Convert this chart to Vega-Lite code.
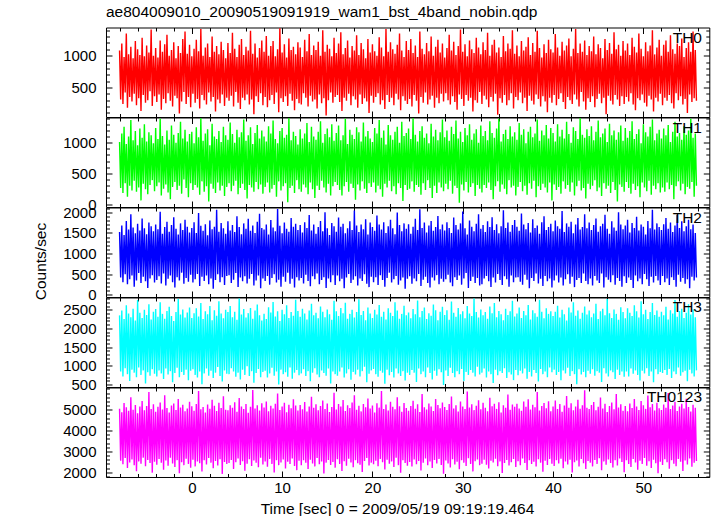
{
"$schema":"https://vega.github.io/schema/vega-lite/v6.json",
"padding":{"left":33,"top":4.5,"right":7,"bottom":2},
"spacing":0,
"bounds":"flush",
"config":{"view":{"stroke":"#000","strokeWidth":1},"axis":{"minExtent":0,"domain":false,"grid":false,"tickColor":"#000","tickWidth":1,"labelFont":"Liberation Sans","labelFontSize":15,"labelColor":"#000","labelOverlap":false,"labelFlush":false,"titleFont":"Liberation Sans","titleFontSize":15.5,"titleFontWeight":"normal","titleColor":"#000"},"axisX":{"minExtent":0},"axisY":{"minExtent":0}},
"datasets":{"wam":[
{"t":-8,"a":1080,"b":1010,"c":1520,"d":2350,"e":5050},{"t":-7.875,"a":310,"b":260,"c":420,"d":850,"e":2550},
{"t":-7.75,"a":1190,"b":1150,"c":1680,"d":2480,"e":4880},{"t":-7.625,"a":240,"b":180,"c":310,"d":720,"e":2380},
{"t":-7.5,"a":980,"b":1260,"c":1450,"d":2250,"e":5320},{"t":-7.375,"a":420,"b":340,"c":500,"d":940,"e":2680},
{"t":-7.25,"a":1350,"b":980,"c":1790,"d":2620,"e":5120},{"t":-7.125,"a":180,"b":120,"c":260,"d":780,"e":2200},
{"t":-7,"a":1020,"b":1100,"c":1580,"d":2400,"e":4950},{"t":-6.875,"a":350,"b":300,"c":380,"d":600,"e":2470},
{"t":-6.75,"a":1140,"b":1370,"c":1950,"d":2300,"e":5600},{"t":-6.625,"a":280,"b":220,"c":470,"d":900,"e":2610},
{"t":-6.5,"a":960,"b":1040,"c":1630,"d":2530,"e":5000},{"t":-6.375,"a":400,"b":380,"c":200,"d":820,"e":2330},
{"t":-6.25,"a":1230,"b":1190,"c":1490,"d":2210,"e":5230},{"t":-6.125,"a":220,"b":200,"c":350,"d":700,"e":2050},
{"t":-6,"a":1100,"b":960,"c":1720,"d":2760,"e":4830},{"t":-5.875,"a":330,"b":270,"c":530,"d":960,"e":2520},
{"t":-5.75,"a":1010,"b":1230,"c":1560,"d":2420,"e":5150},{"t":-5.625,"a":130,"b":60,"c":290,"d":760,"e":2410},
{"t":-5.5,"a":1280,"b":1080,"c":1850,"d":2280,"e":5420},{"t":-5.375,"a":380,"b":330,"c":440,"d":880,"e":2700},
{"t":-5.25,"a":990,"b":1300,"c":1610,"d":2500,"e":4970},{"t":-5.125,"a":260,"b":240,"c":330,"d":530,"e":2290},
{"t":-5,"a":1160,"b":1020,"c":1470,"d":2360,"e":5180},{"t":-4.875,"a":300,"b":160,"c":170,"d":830,"e":2590},
{"t":-4.75,"a":1050,"b":1170,"c":1750,"d":2650,"e":5850},{"t":-4.625,"a":440,"b":310,"c":400,"d":740,"e":2440},
{"t":-4.5,"a":1410,"b":1120,"c":1660,"d":2240,"e":5040},{"t":-4.375,"a":210,"b":390,"c":480,"d":910,"e":1980},
{"t":-4.25,"a":1000,"b":990,"c":1540,"d":2450,"e":5260},{"t":-4.125,"a":360,"b":210,"c":300,"d":790,"e":2500},
{"t":-4,"a":1120,"b":1240,"c":1700,"d":2520,"e":4900},{"t":-3.875,"a":270,"b":290,"c":360,"d":720,"e":2360},
{"t":-3.75,"a":970,"b":1060,"c":1590,"d":2310,"e":5140},{"t":-3.625,"a":390,"b":350,"c":450,"d":880,"e":2630},
{"t":-3.5,"a":1240,"b":1390,"c":2010,"d":2700,"e":5350},{"t":-3.375,"a":150,"b":140,"c":280,"d":800,"e":2450},
{"t":-3.25,"a":1060,"b":1110,"c":1480,"d":2390,"e":5010},{"t":-3.125,"a":320,"b":250,"c":520,"d":650,"e":2120},
{"t":-3,"a":1180,"b":970,"c":1640,"d":2260,"e":5700},{"t":-2.875,"a":250,"b":320,"c":230,"d":930,"e":2560},
{"t":-2.75,"a":1330,"b":1200,"c":1770,"d":2470,"e":5080},{"t":-2.625,"a":410,"b":190,"c":390,"d":770,"e":2310},
{"t":-2.5,"a":1000,"b":1050,"c":1530,"d":2580,"e":4860},{"t":-2.375,"a":290,"b":80,"c":470,"d":860,"e":2690},
{"t":-2.25,"a":1090,"b":1280,"c":1690,"d":2330,"e":5200},{"t":-2.125,"a":200,"b":280,"c":310,"d":560,"e":2420},
{"t":-2,"a":1210,"b":1130,"c":1880,"d":2200,"e":5300},{"t":-1.875,"a":370,"b":360,"c":180,"d":810,"e":2250},
{"t":-1.75,"a":960,"b":1000,"c":1600,"d":2440,"e":4990},{"t":-1.625,"a":330,"b":230,"c":430,"d":950,"e":2580},
{"t":-1.5,"a":1150,"b":1160,"c":1460,"d":2790,"e":5520},{"t":-1.375,"a":90,"b":300,"c":350,"d":700,"e":1950},
{"t":-1.25,"a":1040,"b":1340,"c":1730,"d":2370,"e":5110},{"t":-1.125,"a":280,"b":170,"c":540,"d":840,"e":2480},
{"t":-1,"a":1260,"b":1070,"c":1570,"d":2510,"e":5240},{"t":-0.875,"a":430,"b":400,"c":270,"d":760,"e":2340},
{"t":-0.75,"a":1380,"b":1210,"c":1820,"d":2290,"e":4920},{"t":-0.625,"a":240,"b":260,"c":410,"d":900,"e":2650},
{"t":-0.5,"a":1030,"b":1020,"c":1650,"d":2430,"e":5060},{"t":-0.375,"a":350,"b":110,"c":320,"d":620,"e":2400},
{"t":-0.25,"a":1170,"b":1140,"c":1510,"d":2560,"e":5380},{"t":-0.125,"a":190,"b":340,"c":490,"d":870,"e":2210},
{"t":0,"a":990,"b":1180,"c":1620,"d":2280,"e":5170},{"t":0.125,"a":400,"b":230,"c":300,"d":910,"e":2600},
{"t":0.25,"a":1110,"b":990,"c":1760,"d":2410,"e":4950},{"t":0.375,"a":260,"b":310,"c":380,"d":760,"e":2280},
{"t":0.5,"a":1250,"b":1250,"c":1500,"d":2540,"e":5280},{"t":0.625,"a":320,"b":270,"c":510,"d":690,"e":2510},
{"t":0.75,"a":1070,"b":1090,"c":1980,"d":2320,"e":5900},{"t":0.875,"a":170,"b":150,"c":220,"d":850,"e":2430},
{"t":1,"a":1420,"b":1400,"c":1670,"d":2680,"e":5020},{"t":1.125,"a":380,"b":370,"c":440,"d":510,"e":2030},
{"t":1.25,"a":1000,"b":1030,"c":1550,"d":2250,"e":5130},{"t":1.375,"a":300,"b":200,"c":340,"d":800,"e":2570},
{"t":1.5,"a":1130,"b":1150,"c":1710,"d":2460,"e":4870},{"t":1.625,"a":230,"b":290,"c":470,"d":930,"e":2370},
{"t":1.75,"a":1190,"b":1220,"c":1440,"d":2380,"e":5250},{"t":1.875,"a":420,"b":40,"c":260,"d":740,"e":2680},
{"t":2,"a":980,"b":960,"c":1800,"d":2600,"e":5050},{"t":2.125,"a":280,"b":330,"c":400,"d":870,"e":2460},
{"t":2.25,"a":1300,"b":1310,"c":1590,"d":2220,"e":5480},{"t":2.375,"a":350,"b":250,"c":150,"d":680,"e":2190},
{"t":2.5,"a":1060,"b":1100,"c":1650,"d":2490,"e":5190},{"t":2.625,"a":120,"b":180,"c":360,"d":820,"e":2540},
{"t":2.75,"a":1150,"b":1060,"c":2060,"d":2340,"e":4940},{"t":2.875,"a":310,"b":350,"c":500,"d":970,"e":2320},
{"t":3,"a":1020,"b":1190,"c":1530,"d":2730,"e":5330},{"t":3.125,"a":250,"b":220,"c":310,"d":730,"e":2620},
{"t":3.25,"a":1220,"b":1010,"c":1740,"d":2400,"e":5080},{"t":3.375,"a":390,"b":300,"c":430,"d":580,"e":1920},
{"t":3.5,"a":1090,"b":1260,"c":1610,"d":2270,"e":5650},{"t":3.625,"a":210,"b":130,"c":240,"d":880,"e":2490},
{"t":3.75,"a":960,"b":1120,"c":1480,"d":2500,"e":5000},{"t":3.875,"a":340,"b":280,"c":460,"d":790,"e":2390},
{"t":4,"a":1200,"b":1050,"c":1780,"d":2440,"e":4980},{"t":4.125,"a":290,"b":340,"c":480,"d":780,"e":2440},
{"t":4.25,"a":1040,"b":1330,"c":1560,"d":2600,"e":5220},{"t":4.375,"a":370,"b":210,"c":290,"d":940,"e":2590},
{"t":4.5,"a":1360,"b":1140,"c":1690,"d":2300,"e":5100},{"t":4.625,"a":200,"b":300,"c":370,"d":850,"e":2160},
{"t":4.75,"a":1110,"b":1000,"c":1520,"d":2450,"e":5360},{"t":4.875,"a":430,"b":380,"c":530,"d":710,"e":2480},
{"t":5,"a":980,"b":1210,"c":1900,"d":2230,"e":4900},{"t":5.125,"a":260,"b":160,"c":190,"d":820,"e":2660},
{"t":5.25,"a":1170,"b":1090,"c":1640,"d":2800,"e":5560},{"t":5.375,"a":160,"b":260,"c":420,"d":640,"e":2350},
{"t":5.5,"a":1260,"b":1170,"c":1470,"d":2370,"e":5160},{"t":5.625,"a":340,"b":330,"c":330,"d":900,"e":2530},
{"t":5.75,"a":1010,"b":1380,"c":1730,"d":2520,"e":5030},{"t":5.875,"a":300,"b":230,"c":450,"d":760,"e":2070},
{"t":6,"a":1140,"b":1030,"c":1600,"d":2290,"e":5270},{"t":6.125,"a":390,"b":90,"c":280,"d":990,"e":2410},
{"t":6.25,"a":1080,"b":1120,"c":1840,"d":2410,"e":4850},{"t":6.375,"a":230,"b":310,"c":390,"d":730,"e":2620},
{"t":6.5,"a":1390,"b":1250,"c":1550,"d":2550,"e":5140},{"t":6.625,"a":310,"b":270,"c":510,"d":860,"e":2300},
{"t":6.75,"a":1030,"b":980,"c":1680,"d":2260,"e":5950},{"t":6.875,"a":80,"b":200,"c":230,"d":550,"e":2560},
{"t":7,"a":1190,"b":1160,"c":1500,"d":2480,"e":5060},{"t":7.125,"a":360,"b":360,"c":350,"d":810,"e":2450},
{"t":7.25,"a":970,"b":1290,"c":1770,"d":2640,"e":5210},{"t":7.375,"a":270,"b":240,"c":470,"d":920,"e":2240},
{"t":7.5,"a":1120,"b":1070,"c":1960,"d":2350,"e":4960},{"t":7.625,"a":410,"b":320,"c":160,"d":700,"e":2690},
{"t":7.75,"a":1240,"b":1200,"c":1620,"d":2210,"e":5310},{"t":7.875,"a":220,"b":170,"c":400,"d":840,"e":2370},
{"t":8,"a":1060,"b":1100,"c":1580,"d":2390,"e":5110},{"t":8.125,"a":350,"b":280,"c":340,"d":870,"e":2510},
{"t":8.25,"a":1310,"b":1020,"c":1700,"d":2250,"e":5400},{"t":8.375,"a":190,"b":350,"c":460,"d":690,"e":2260},
{"t":8.5,"a":1000,"b":1270,"c":1460,"d":2570,"e":4930},{"t":8.625,"a":300,"b":190,"c":250,"d":800,"e":2640},
{"t":8.75,"a":1150,"b":1150,"c":1810,"d":2430,"e":5190},{"t":8.875,"a":380,"b":250,"c":410,"d":950,"e":2400},
{"t":9,"a":1230,"b":1360,"c":1630,"d":2710,"e":5060},{"t":9.125,"a":240,"b":310,"c":500,"d":740,"e":1990},
{"t":9.25,"a":990,"b":1060,"c":1540,"d":2320,"e":5290},{"t":9.375,"a":420,"b":120,"c":300,"d":850,"e":2580},
{"t":9.5,"a":1100,"b":990,"c":2080,"d":2460,"e":5780},{"t":9.625,"a":110,"b":370,"c":370,"d":500,"e":2340},
{"t":9.75,"a":1430,"b":1190,"c":1670,"d":2200,"e":4990},{"t":9.875,"a":330,"b":220,"c":200,"d":900,"e":2470},
{"t":10,"a":1050,"b":1240,"c":1490,"d":2500,"e":5150},{"t":10.125,"a":270,"b":290,"c":440,"d":780,"e":2610},
{"t":10.25,"a":1180,"b":1080,"c":1750,"d":2380,"e":5340},{"t":10.375,"a":360,"b":340,"c":320,"d":830,"e":2180},
{"t":10.5,"a":970,"b":1130,"c":1600,"d":2620,"e":4880},{"t":10.625,"a":210,"b":30,"c":540,"d":710,"e":2500},
{"t":10.75,"a":1270,"b":1400,"c":1530,"d":2280,"e":5240},{"t":10.875,"a":400,"b":260,"c":270,"d":960,"e":2390},
{"t":11,"a":1090,"b":1040,"c":1860,"d":2440,"e":5070},{"t":11.125,"a":290,"b":300,"c":390,"d":660,"e":2660},
{"t":11.25,"a":1140,"b":1180,"c":1650,"d":2340,"e":5500},{"t":11.375,"a":140,"b":180,"c":180,"d":820,"e":2300},
{"t":11.5,"a":1020,"b":1110,"c":1720,"d":2770,"e":5200},{"t":11.625,"a":320,"b":390,"c":430,"d":890,"e":2100},
{"t":11.75,"a":1210,"b":970,"c":1570,"d":2470,"e":4960},{"t":11.875,"a":250,"b":240,"c":350,"d":750,"e":2550},
{"t":12,"a":1130,"b":1220,"c":1690,"d":2310,"e":5230},{"t":12.125,"a":230,"b":200,"c":410,"d":800,"e":2330},
{"t":12.25,"a":980,"b":1070,"c":1510,"d":2530,"e":5020},{"t":12.375,"a":410,"b":320,"c":280,"d":910,"e":2570},
{"t":12.5,"a":1250,"b":1150,"c":1760,"d":2400,"e":5370},{"t":12.625,"a":340,"b":270,"c":490,"d":730,"e":2450},
{"t":12.75,"a":1070,"b":1320,"c":1620,"d":2240,"e":4910},{"t":12.875,"a":200,"b":160,"c":340,"d":860,"e":2150},
{"t":13,"a":1340,"b":1010,"c":1930,"d":2480,"e":5160},{"t":13.125,"a":370,"b":350,"c":210,"d":590,"e":2600},
{"t":13.25,"a":1010,"b":1260,"c":1560,"d":2660,"e":5620},{"t":13.375,"a":280,"b":240,"c":450,"d":820,"e":2420},
{"t":13.5,"a":1160,"b":1100,"c":1700,"d":2350,"e":5090},{"t":13.625,"a":310,"b":100,"c":380,"d":940,"e":2280},
{"t":13.75,"a":1090,"b":1050,"c":1480,"d":2420,"e":5260},{"t":13.875,"a":170,"b":300,"c":520,"d":770,"e":2680},
{"t":14,"a":1220,"b":1180,"c":1640,"d":2270,"e":4970},{"t":14.125,"a":390,"b":230,"c":260,"d":700,"e":2380},
{"t":14.25,"a":1000,"b":1350,"c":1790,"d":2590,"e":5180},{"t":14.375,"a":250,"b":380,"c":360,"d":880,"e":2520},
{"t":14.5,"a":1400,"b":1000,"c":1540,"d":2450,"e":5440},{"t":14.625,"a":330,"b":270,"c":430,"d":810,"e":1940},
{"t":14.75,"a":1060,"b":1140,"c":2000,"d":2300,"e":5040},{"t":14.875,"a":60,"b":190,"c":170,"d":740,"e":2460},
{"t":15,"a":1170,"b":1230,"c":1610,"d":2510,"e":5300},{"t":15.125,"a":300,"b":330,"c":400,"d":930,"e":2590},
{"t":15.25,"a":1110,"b":1090,"c":1450,"d":2380,"e":4890},{"t":15.375,"a":420,"b":140,"c":310,"d":530,"e":2350},
{"t":15.5,"a":990,"b":1300,"c":1740,"d":2230,"e":5130},{"t":15.625,"a":260,"b":290,"c":480,"d":850,"e":2490},
{"t":15.75,"a":1280,"b":1030,"c":1660,"d":2740,"e":5820},{"t":15.875,"a":350,"b":360,"c":240,"d":780,"e":2220},
{"t":16,"a":1040,"b":1160,"c":1530,"d":2460,"e":5010},{"t":16.125,"a":380,"b":310,"c":470,"d":740,"e":2620},
{"t":16.25,"a":1190,"b":1280,"c":1870,"d":2330,"e":5270},{"t":16.375,"a":270,"b":230,"c":330,"d":850,"e":2400},
{"t":16.5,"a":1370,"b":1040,"c":1650,"d":2550,"e":5150},{"t":16.625,"a":130,"b":140,"c":390,"d":960,"e":2060},
{"t":16.75,"a":1020,"b":1120,"c":1720,"d":2410,"e":5470},{"t":16.875,"a":340,"b":290,"c":160,"d":690,"e":2530},
{"t":17,"a":1120,"b":1390,"c":1490,"d":2690,"e":4940},{"t":17.125,"a":290,"b":360,"c":420,"d":800,"e":2310},
{"t":17.25,"a":1240,"b":980,"c":1610,"d":2260,"e":5220},{"t":17.375,"a":400,"b":200,"c":510,"d":910,"e":2650},
{"t":17.5,"a":970,"b":1210,"c":1780,"d":2390,"e":5080},{"t":17.625,"a":220,"b":330,"c":290,"d":630,"e":2470},
{"t":17.75,"a":1150,"b":1130,"c":1570,"d":2500,"e":5350},{"t":17.875,"a":360,"b":260,"c":370,"d":840,"e":2240},
{"t":18,"a":1080,"b":1060,"c":2040,"d":2290,"e":5690},{"t":18.125,"a":310,"b":70,"c":450,"d":770,"e":2580},
{"t":18.25,"a":1320,"b":1250,"c":1680,"d":2440,"e":5000},{"t":18.375,"a":180,"b":320,"c":230,"d":900,"e":2430},
{"t":18.5,"a":1010,"b":1170,"c":1520,"d":2780,"e":5190},{"t":18.625,"a":390,"b":220,"c":400,"d":720,"e":2360},
{"t":18.75,"a":1200,"b":1020,"c":1700,"d":2360,"e":4920},{"t":18.875,"a":240,"b":370,"c":340,"d":860,"e":2010},
{"t":19,"a":1100,"b":1330,"c":1590,"d":2470,"e":5280},{"t":19.125,"a":330,"b":250,"c":500,"d":980,"e":2540},
{"t":19.25,"a":960,"b":1100,"c":1830,"d":2220,"e":5120},{"t":19.375,"a":280,"b":180,"c":270,"d":560,"e":2680},
{"t":19.5,"a":1260,"b":1190,"c":1460,"d":2560,"e":5540},{"t":19.625,"a":100,"b":340,"c":190,"d":790,"e":2320},
{"t":19.75,"a":1050,"b":1070,"c":1750,"d":2400,"e":5060},{"t":19.875,"a":370,"b":280,"c":440,"d":880,"e":2460},
{"t":20,"a":1180,"b":1010,"c":1640,"d":2280,"e":5200},{"t":20.125,"a":260,"b":350,"c":310,"d":920,"e":2380},
{"t":20.25,"a":1070,"b":1240,"c":1550,"d":2500,"e":4870},{"t":20.375,"a":350,"b":190,"c":430,"d":780,"e":2550},
{"t":20.5,"a":1000,"b":1150,"c":1920,"d":2370,"e":5310},{"t":20.625,"a":410,"b":300,"c":240,"d":710,"e":2290},
{"t":20.75,"a":1290,"b":1370,"c":1700,"d":2630,"e":5100},{"t":20.875,"a":230,"b":240,"c":480,"d":870,"e":2640},
{"t":21,"a":1130,"b":1080,"c":1580,"d":2310,"e":5900},{"t":21.125,"a":300,"b":120,"c":360,"d":820,"e":2480},
{"t":21.25,"a":990,"b":1200,"c":1760,"d":2450,"e":5040},{"t":21.375,"a":160,"b":330,"c":200,"d":520,"e":2130},
{"t":21.5,"a":1420,"b":970,"c":1500,"d":2240,"e":5250},{"t":21.625,"a":380,"b":270,"c":410,"d":900,"e":2600},
{"t":21.75,"a":1060,"b":1290,"c":1660,"d":2540,"e":4960},{"t":21.875,"a":270,"b":380,"c":540,"d":750,"e":2410},
{"t":22,"a":1210,"b":1120,"c":1820,"d":2420,"e":5380},{"t":22.125,"a":340,"b":210,"c":300,"d":840,"e":2520},
{"t":22.25,"a":1100,"b":1050,"c":1610,"d":2330,"e":5140},{"t":22.375,"a":220,"b":290,"c":380,"d":690,"e":2250},
{"t":22.5,"a":1030,"b":1180,"c":1470,"d":2700,"e":5020},{"t":22.625,"a":400,"b":160,"c":460,"d":930,"e":2690},
{"t":22.75,"a":1170,"b":1260,"c":1990,"d":2480,"e":5600},{"t":22.875,"a":310,"b":340,"c":250,"d":800,"e":2340},
{"t":23,"a":1350,"b":1000,"c":1690,"d":2260,"e":5170},{"t":23.125,"a":140,"b":260,"c":350,"d":730,"e":1970},
{"t":23.25,"a":1080,"b":1340,"c":1540,"d":2390,"e":4900},{"t":23.375,"a":360,"b":50,"c":420,"d":860,"e":2570},
{"t":23.5,"a":980,"b":1110,"c":1730,"d":2610,"e":5320},{"t":23.625,"a":290,"b":310,"c":150,"d":610,"e":2440},
{"t":23.75,"a":1230,"b":1160,"c":1600,"d":2350,"e":5080},{"t":23.875,"a":240,"b":230,"c":390,"d":820,"e":2310},
{"t":24,"a":1090,"b":1230,"c":1710,"d":2430,"e":4950},{"t":24.125,"a":320,"b":250,"c":450,"d":760,"e":2490},
{"t":24.25,"a":1260,"b":1060,"c":1480,"d":2270,"e":5180},{"t":24.375,"a":200,"b":370,"c":270,"d":890,"e":2270},
{"t":24.5,"a":1040,"b":1400,"c":1650,"d":2520,"e":5430},{"t":24.625,"a":380,"b":200,"c":400,"d":820,"e":2610},
{"t":24.75,"a":1160,"b":1130,"c":1840,"d":2380,"e":5050},{"t":24.875,"a":290,"b":310,"c":330,"d":570,"e":2380},
{"t":25,"a":980,"b":1020,"c":1570,"d":2750,"e":5260},{"t":25.125,"a":90,"b":280,"c":510,"d":930,"e":2540},
{"t":25.25,"a":1380,"b":1190,"c":2070,"d":2300,"e":4890},{"t":25.375,"a":350,"b":150,"c":220,"d":780,"e":2080},
{"t":25.5,"a":1110,"b":1270,"c":1620,"d":2470,"e":5750},{"t":25.625,"a":260,"b":340,"c":370,"d":850,"e":2450},
{"t":25.75,"a":1020,"b":1080,"c":1750,"d":2560,"e":5120},{"t":25.875,"a":420,"b":230,"c":440,"d":700,"e":2660},
{"t":26,"a":1200,"b":1150,"c":1510,"d":2250,"e":5010},{"t":26.125,"a":230,"b":390,"c":290,"d":960,"e":2330},
{"t":26.25,"a":1070,"b":990,"c":1680,"d":2410,"e":5300},{"t":26.375,"a":310,"b":260,"c":180,"d":810,"e":2510},
{"t":26.5,"a":1300,"b":1310,"c":1790,"d":2340,"e":5160},{"t":26.625,"a":370,"b":100,"c":420,"d":640,"e":2200},
{"t":26.75,"a":1000,"b":1100,"c":1550,"d":2640,"e":4940},{"t":26.875,"a":180,"b":300,"c":350,"d":870,"e":2590},
{"t":27,"a":1140,"b":1210,"c":1640,"d":2490,"e":5520},{"t":27.125,"a":340,"b":180,"c":480,"d":740,"e":2420},
{"t":27.25,"a":1250,"b":1040,"c":1910,"d":2220,"e":5230},{"t":27.375,"a":250,"b":350,"c":260,"d":910,"e":2640},
{"t":27.5,"a":1050,"b":1170,"c":1590,"d":2450,"e":5070},{"t":27.625,"a":400,"b":270,"c":390,"d":830,"e":2350},
{"t":27.75,"a":1190,"b":1380,"c":1700,"d":2580,"e":5350},{"t":27.875,"a":280,"b":210,"c":320,"d":490,"e":1930},
{"t":28,"a":970,"b":1090,"c":1560,"d":2360,"e":5130},{"t":28.125,"a":410,"b":330,"c":380,"d":880,"e":2560},
{"t":28.25,"a":1120,"b":1200,"c":1760,"d":2490,"e":4990},{"t":28.375,"a":300,"b":240,"c":490,"d":730,"e":2420},
{"t":28.5,"a":1330,"b":1030,"c":1620,"d":2230,"e":5280},{"t":28.625,"a":230,"b":380,"c":300,"d":950,"e":2230},
{"t":28.75,"a":1080,"b":1260,"c":1500,"d":2720,"e":5640},{"t":28.875,"a":360,"b":170,"c":210,"d":810,"e":2620},
{"t":29,"a":1220,"b":1140,"c":1870,"d":2420,"e":5060},{"t":29.125,"a":270,"b":300,"c":430,"d":700,"e":2370},
{"t":29.25,"a":1010,"b":1360,"c":1690,"d":2310,"e":5210},{"t":29.375,"a":150,"b":260,"c":360,"d":860,"e":2500},
{"t":29.5,"a":1150,"b":1070,"c":1580,"d":2550,"e":4910},{"t":29.625,"a":390,"b":20,"c":470,"d":780,"e":2140},
{"t":29.75,"a":1410,"b":1180,"c":1730,"d":2380,"e":5400},{"t":29.875,"a":320,"b":320,"c":250,"d":920,"e":2580},
{"t":30,"a":1060,"b":1010,"c":2020,"d":2460,"e":5150},{"t":30.125,"a":210,"b":220,"c":400,"d":600,"e":2460},
{"t":30.25,"a":1180,"b":1240,"c":1610,"d":2270,"e":5030},{"t":30.375,"a":380,"b":360,"c":530,"d":840,"e":2300},
{"t":30.5,"a":990,"b":1120,"c":1460,"d":2600,"e":5880},{"t":30.625,"a":290,"b":190,"c":170,"d":760,"e":2670},
{"t":30.75,"a":1240,"b":1300,"c":1800,"d":2400,"e":5110},{"t":30.875,"a":340,"b":280,"c":340,"d":890,"e":2400},
{"t":31,"a":1100,"b":1050,"c":1650,"d":2330,"e":5260},{"t":31.125,"a":120,"b":340,"c":440,"d":820,"e":2040},
{"t":31.25,"a":1040,"b":1150,"c":1540,"d":2800,"e":4980},{"t":31.375,"a":300,"b":130,"c":290,"d":720,"e":2530},
{"t":31.5,"a":1280,"b":1220,"c":1720,"d":2440,"e":5190},{"t":31.625,"a":260,"b":310,"c":410,"d":980,"e":2610},
{"t":31.75,"a":1130,"b":1000,"c":1950,"d":2290,"e":5460},{"t":31.875,"a":430,"b":250,"c":230,"d":770,"e":2340},
{"t":32,"a":1020,"b":1280,"c":1600,"d":2510,"e":5020},{"t":32.125,"a":240,"b":190,"c":260,"d":820,"e":2410},
{"t":32.25,"a":1210,"b":1110,"c":1690,"d":2350,"e":5330},{"t":32.375,"a":370,"b":310,"c":400,"d":930,"e":2600},
{"t":32.5,"a":1090,"b":1190,"c":1520,"d":2440,"e":5090},{"t":32.625,"a":310,"b":260,"c":460,"d":690,"e":2360},
{"t":32.75,"a":1360,"b":1040,"c":1780,"d":2260,"e":4930},{"t":32.875,"a":190,"b":350,"c":330,"d":850,"e":2180},
{"t":33,"a":1000,"b":1350,"c":1640,"d":2590,"e":5580},{"t":33.125,"a":350,"b":230,"c":190,"d":780,"e":2550},
{"t":33.25,"a":1170,"b":1160,"c":1880,"d":2410,"e":5170},{"t":33.375,"a":280,"b":80,"c":420,"d":540,"e":2470},
{"t":33.5,"a":1250,"b":1080,"c":1570,"d":2680,"e":5290},{"t":33.625,"a":400,"b":290,"c":300,"d":900,"e":2650},
{"t":33.75,"a":1050,"b":1230,"c":1710,"d":2300,"e":5040},{"t":33.875,"a":70,"b":370,"c":510,"d":750,"e":2290},
{"t":34,"a":1130,"b":1390,"c":1490,"d":2470,"e":5360},{"t":34.125,"a":330,"b":200,"c":360,"d":860,"e":2520},
{"t":34.25,"a":980,"b":1020,"c":1660,"d":2380,"e":4870},{"t":34.375,"a":260,"b":320,"c":240,"d":810,"e":1960},
{"t":34.5,"a":1310,"b":1140,"c":2050,"d":2220,"e":5220},{"t":34.625,"a":380,"b":250,"c":450,"d":940,"e":2440},
{"t":34.75,"a":1070,"b":1210,"c":1620,"d":2530,"e":5100},{"t":34.875,"a":220,"b":160,"c":380,"d":680,"e":2590},
{"t":35,"a":1190,"b":1060,"c":1750,"d":2360,"e":5730},{"t":35.125,"a":300,"b":390,"c":200,"d":830,"e":2320},
{"t":35.25,"a":1110,"b":1270,"c":1530,"d":2460,"e":5000},{"t":35.375,"a":410,"b":270,"c":470,"d":770,"e":2480},
{"t":35.5,"a":1400,"b":1100,"c":1690,"d":2740,"e":5250},{"t":35.625,"a":170,"b":300,"c":310,"d":620,"e":2630},
{"t":35.75,"a":1030,"b":1170,"c":1810,"d":2320,"e":5140},{"t":35.875,"a":350,"b":140,"c":420,"d":890,"e":2250},
{"t":36,"a":1160,"b":1050,"c":1650,"d":2400,"e":5290},{"t":36.125,"a":300,"b":280,"c":430,"d":750,"e":2530},
{"t":36.25,"a":990,"b":1320,"c":1550,"d":2560,"e":5060},{"t":36.375,"a":420,"b":360,"c":320,"d":870,"e":2330},
{"t":36.5,"a":1230,"b":1130,"c":1970,"d":2280,"e":4950},{"t":36.625,"a":250,"b":210,"c":250,"d":800,"e":2660},
{"t":36.75,"a":1080,"b":1220,"c":1700,"d":2470,"e":5390},{"t":36.875,"a":340,"b":300,"c":490,"d":930,"e":2440},
{"t":37,"a":1140,"b":990,"c":1590,"d":2350,"e":5140},{"t":37.125,"a":130,"b":150,"c":370,"d":660,"e":2110},
{"t":37.25,"a":1290,"b":1180,"c":1740,"d":2630,"e":5500},{"t":37.375,"a":370,"b":340,"c":160,"d":840,"e":2570},
{"t":37.5,"a":1010,"b":1260,"c":1510,"d":2240,"e":5010},{"t":37.625,"a":290,"b":250,"c":410,"d":720,"e":2390},
{"t":37.75,"a":1200,"b":1090,"c":1830,"d":2490,"e":5240},{"t":37.875,"a":230,"b":380,"c":340,"d":890,"e":2500},
{"t":38,"a":1060,"b":1150,"c":1620,"d":2410,"e":5120},{"t":38.125,"a":390,"b":110,"c":520,"d":810,"e":2270},
{"t":38.25,"a":1390,"b":1380,"c":1680,"d":2310,"e":5850},{"t":38.375,"a":320,"b":290,"c":280,"d":580,"e":2620},
{"t":38.5,"a":1120,"b":1030,"c":1480,"d":2770,"e":4960},{"t":38.625,"a":200,"b":230,"c":390,"d":920,"e":2460},
{"t":38.75,"a":970,"b":1200,"c":1760,"d":2450,"e":5180},{"t":38.875,"a":360,"b":330,"c":220,"d":780,"e":2020},
{"t":39,"a":1180,"b":1120,"c":1900,"d":2270,"e":5320},{"t":39.125,"a":280,"b":270,"c":460,"d":850,"e":2550},
{"t":39.25,"a":1040,"b":1290,"c":1570,"d":2540,"e":5070},{"t":39.375,"a":110,"b":190,"c":330,"d":700,"e":2350},
{"t":39.5,"a":1250,"b":1070,"c":1640,"d":2390,"e":5410},{"t":39.625,"a":340,"b":350,"c":400,"d":960,"e":2640},
{"t":39.75,"a":1100,"b":1240,"c":1720,"d":2460,"e":4920},{"t":39.875,"a":260,"b":60,"c":180,"d":830,"e":2410},
{"t":40,"a":1050,"b":1160,"c":1540,"d":2330,"e":5160},{"t":40.125,"a":380,"b":320,"c":350,"d":900,"e":2300},
{"t":40.25,"a":1340,"b":1020,"c":1800,"d":2450,"e":5440},{"t":40.375,"a":220,"b":230,"c":470,"d":760,"e":2580},
{"t":40.5,"a":1130,"b":1300,"c":1660,"d":2610,"e":5030},{"t":40.625,"a":320,"b":280,"c":300,"d":840,"e":2420},
{"t":40.75,"a":1000,"b":1100,"c":1600,"d":2290,"e":5270},{"t":40.875,"a":410,"b":170,"c":420,"d":620,"e":2650},
{"t":41,"a":1220,"b":1210,"c":2030,"d":2500,"e":4900},{"t":41.125,"a":270,"b":370,"c":230,"d":880,"e":2190},
{"t":41.25,"a":1080,"b":1070,"c":1520,"d":2380,"e":5200},{"t":41.375,"a":160,"b":250,"c":380,"d":800,"e":2510},
{"t":41.5,"a":1160,"b":1340,"c":1730,"d":2210,"e":5660},{"t":41.625,"a":350,"b":310,"c":500,"d":950,"e":2370},
{"t":41.75,"a":1270,"b":1140,"c":1650,"d":2560,"e":5090},{"t":41.875,"a":300,"b":200,"c":270,"d":730,"e":2600},
{"t":42,"a":990,"b":1000,"c":1770,"d":2430,"e":5310},{"t":42.125,"a":240,"b":350,"c":440,"d":860,"e":1990},
{"t":42.25,"a":1110,"b":1250,"c":1490,"d":2700,"e":4980},{"t":42.375,"a":390,"b":140,"c":190,"d":780,"e":2480},
{"t":42.5,"a":1420,"b":1190,"c":1700,"d":2340,"e":5150},{"t":42.625,"a":310,"b":290,"c":360,"d":510,"e":2560},
{"t":42.75,"a":1040,"b":1060,"c":1860,"d":2480,"e":5480},{"t":42.875,"a":200,"b":380,"c":410,"d":910,"e":2280},
{"t":43,"a":1190,"b":1400,"c":1580,"d":2260,"e":5050},{"t":43.125,"a":430,"b":220,"c":290,"d":770,"e":2630},
{"t":43.25,"a":1060,"b":1130,"c":1640,"d":2420,"e":5220},{"t":43.375,"a":280,"b":260,"c":520,"d":840,"e":2430},
{"t":43.5,"a":1240,"b":1080,"c":1950,"d":2590,"e":5930},{"t":43.625,"a":150,"b":90,"c":340,"d":700,"e":2150},
{"t":43.75,"a":1010,"b":1220,"c":1610,"d":2370,"e":5100},{"t":43.875,"a":330,"b":330,"c":260,"d":870,"e":2540},
{"t":44,"a":1150,"b":1110,"c":1750,"d":2480,"e":5040},{"t":44.125,"a":270,"b":240,"c":400,"d":790,"e":2460},
{"t":44.25,"a":1070,"b":1270,"c":1570,"d":2300,"e":5230},{"t":44.375,"a":360,"b":300,"c":230,"d":910,"e":2280},
{"t":44.5,"a":1300,"b":1040,"c":1690,"d":2400,"e":5370},{"t":44.625,"a":190,"b":390,"c":460,"d":740,"e":2590},
{"t":44.75,"a":1020,"b":1180,"c":1850,"d":2660,"e":4970},{"t":44.875,"a":320,"b":210,"c":350,"d":860,"e":2400},
{"t":45,"a":1180,"b":1360,"c":1530,"d":2250,"e":5140},{"t":45.125,"a":400,"b":270,"c":290,"d":820,"e":2670},
{"t":45.25,"a":1120,"b":1090,"c":1660,"d":2460,"e":5590},{"t":45.375,"a":250,"b":130,"c":520,"d":570,"e":2090},
{"t":45.5,"a":960,"b":1150,"c":1720,"d":2530,"e":5060},{"t":45.625,"a":340,"b":340,"c":180,"d":940,"e":2520},
{"t":45.75,"a":1260,"b":1230,"c":1940,"d":2350,"e":5290},{"t":45.875,"a":80,"b":250,"c":430,"d":800,"e":2360},
{"t":46,"a":1090,"b":1010,"c":1600,"d":2790,"e":4890},{"t":46.125,"a":370,"b":300,"c":370,"d":720,"e":2610},
{"t":46.25,"a":1200,"b":1310,"c":1480,"d":2410,"e":5180},{"t":46.375,"a":290,"b":180,"c":310,"d":880,"e":2440},
{"t":46.5,"a":1030,"b":1120,"c":1780,"d":2280,"e":5350},{"t":46.625,"a":230,"b":360,"c":480,"d":830,"e":2230},
{"t":46.75,"a":1370,"b":1200,"c":1630,"d":2510,"e":5020},{"t":46.875,"a":380,"b":230,"c":250,"d":650,"e":2570},
{"t":47,"a":1100,"b":1050,"c":1550,"d":2390,"e":5760},{"t":47.125,"a":310,"b":40,"c":410,"d":900,"e":2320},
{"t":47.25,"a":1170,"b":1170,"c":2000,"d":2230,"e":5110},{"t":47.375,"a":210,"b":320,"c":340,"d":760,"e":2660},
{"t":47.5,"a":1000,"b":1280,"c":1700,"d":2570,"e":5260},{"t":47.625,"a":360,"b":280,"c":200,"d":850,"e":2490},
{"t":47.75,"a":1230,"b":1030,"c":1590,"d":2440,"e":4950},{"t":47.875,"a":240,"b":200,"c":450,"d":710,"e":2000},
{"t":48,"a":1080,"b":1240,"c":1680,"d":2270,"e":5180},{"t":48.125,"a":350,"b":360,"c":290,"d":850,"e":2570},
{"t":48.25,"a":1190,"b":1080,"c":1820,"d":2540,"e":4920},{"t":48.375,"a":280,"b":260,"c":420,"d":720,"e":2390},
{"t":48.5,"a":1010,"b":1190,"c":1510,"d":2420,"e":5300},{"t":48.625,"a":410,"b":170,"c":360,"d":930,"e":2250},
{"t":48.75,"a":1280,"b":1350,"c":1740,"d":2330,"e":5080},{"t":48.875,"a":230,"b":330,"c":170,"d":790,"e":2630},
{"t":49,"a":1140,"b":1060,"c":1620,"d":2620,"e":5510},{"t":49.125,"a":140,"b":230,"c":470,"d":880,"e":2470},
{"t":49.25,"a":1050,"b":1140,"c":1890,"d":2460,"e":5150},{"t":49.375,"a":330,"b":290,"c":330,"d":760,"e":2120},
{"t":49.5,"a":1350,"b":1220,"c":1560,"d":2290,"e":4990},{"t":49.625,"a":300,"b":110,"c":400,"d":610,"e":2550},
{"t":49.75,"a":1110,"b":990,"c":1700,"d":2730,"e":5420},{"t":49.875,"a":390,"b":350,"c":260,"d":870,"e":2400},
{"t":50,"a":990,"b":1300,"c":1650,"d":2380,"e":5210},{"t":50.125,"a":260,"b":270,"c":510,"d":800,"e":2680},
{"t":50.25,"a":1210,"b":1170,"c":1460,"d":2500,"e":5040},{"t":50.375,"a":200,"b":210,"c":380,"d":940,"e":2310},
{"t":50.5,"a":1070,"b":1100,"c":1790,"d":2250,"e":5680},{"t":50.625,"a":370,"b":380,"c":220,"d":730,"e":2530},
{"t":50.75,"a":1160,"b":1260,"c":1610,"d":2440,"e":5120},{"t":50.875,"a":310,"b":150,"c":440,"d":850,"e":2200},
{"t":51,"a":1400,"b":1380,"c":2060,"d":2680,"e":5270},{"t":51.125,"a":120,"b":300,"c":300,"d":560,"e":2600},
{"t":51.25,"a":1020,"b":1040,"c":1580,"d":2360,"e":4960},{"t":51.375,"a":340,"b":240,"c":460,"d":910,"e":2430},
{"t":51.5,"a":1130,"b":1150,"c":1730,"d":2480,"e":5340},{"t":51.625,"a":280,"b":340,"c":350,"d":780,"e":1950},
{"t":51.75,"a":1250,"b":1210,"c":1640,"d":2310,"e":5070},{"t":51.875,"a":400,"b":190,"c":240,"d":840,"e":2500},
{"t":52,"a":1000,"b":1070,"c":1570,"d":2450,"e":4990},{"t":52.125,"a":220,"b":270,"c":460,"d":810,"e":2350},
{"t":52.25,"a":1170,"b":1230,"c":1710,"d":2350,"e":5250},{"t":52.375,"a":340,"b":200,"c":310,"d":890,"e":2620},
{"t":52.5,"a":1240,"b":1120,"c":1860,"d":2580,"e":5100},{"t":52.625,"a":290,"b":350,"c":400,"d":760,"e":2480},
{"t":52.75,"a":1060,"b":1290,"c":1600,"d":2240,"e":5800},{"t":52.875,"a":380,"b":240,"c":240,"d":920,"e":2170},
{"t":53,"a":1320,"b":1010,"c":1750,"d":2490,"e":5030},{"t":53.125,"a":250,"b":310,"c":430,"d":680,"e":2580},
{"t":53.25,"a":1100,"b":1180,"c":1520,"d":2400,"e":5200},{"t":53.375,"a":170,"b":80,"c":360,"d":850,"e":2410},
{"t":53.5,"a":1030,"b":1340,"c":1680,"d":2760,"e":5380},{"t":53.625,"a":410,"b":290,"c":200,"d":780,"e":2290},
{"t":53.75,"a":1190,"b":1100,"c":1930,"d":2310,"e":4940},{"t":53.875,"a":300,"b":370,"c":490,"d":960,"e":2640},
{"t":54,"a":1150,"b":1160,"c":1620,"d":2470,"e":5160},{"t":54.125,"a":360,"b":220,"c":320,"d":740,"e":2500},
{"t":54.25,"a":1270,"b":1050,"c":1780,"d":2530,"e":5290},{"t":54.375,"a":230,"b":330,"c":410,"d":830,"e":2060},
{"t":54.5,"a":980,"b":1270,"c":1540,"d":2280,"e":5060},{"t":54.625,"a":320,"b":160,"c":270,"d":870,"e":2560},
{"t":54.75,"a":1120,"b":1130,"c":1660,"d":2420,"e":5530},{"t":54.875,"a":100,"b":280,"c":380,"d":590,"e":2370},
{"t":55,"a":1210,"b":1200,"c":1820,"d":2650,"e":5130},{"t":55.125,"a":390,"b":250,"c":160,"d":900,"e":2660},
{"t":55.25,"a":1060,"b":1390,"c":1590,"d":2370,"e":4910},{"t":55.375,"a":270,"b":360,"c":440,"d":800,"e":2260},
{"t":55.5,"a":1380,"b":1080,"c":1700,"d":2510,"e":5240},{"t":55.625,"a":330,"b":120,"c":350,"d":720,"e":2450},
{"t":55.75,"a":1090,"b":1150,"c":1500,"d":2300,"e":5090},{"t":55.875,"a":290,"b":300,"c":420,"d":880,"e":2540}
]},
"vconcat":[
{"width":603.3,"height":89.5,
 "title":{"text":"ae804009010_20090519091919_wam1_bst_4band_nobin.qdp","anchor":"start","frame":"group","font":"Liberation Sans","fontSize":15.5,"fontWeight":"normal","color":"#000","baseline":"alphabetic","offset":-5.5},
 "layer":[
  {"data":{"name":"wam"},"mark":{"type":"line","color":"#ff0000","strokeWidth":1.4,"clip":true},
   "encoding":{"x":{"field":"t","type":"quantitative","scale":{"domain":[-9.5,57.3],"nice":false,"zero":false},"axis":{"orient":"bottom","values":[0,10,20,30,40,50],"tickSize":-6,"labels":false,"title":null}},
    "y":{"field":"a","type":"quantitative","scale":{"domain":[35,1443],"nice":false,"zero":false},"axis":{"orient":"left","values":[500,1000],"format":"d","tickSize":-6,"labelPadding":16,"title":null}}}},
  {"data":{"values":[{"band":"TH0"}]},"mark":{"type":"text","align":"right","baseline":"alphabetic","dx":-7.3,"dy":15,"font":"Liberation Sans","fontSize":15.5,"color":"#000"},
   "encoding":{"text":{"field":"band"},"x":{"datum":57.3,"type":"quantitative","axis":{"orient":"top","values":[0,10,20,30,40,50],"tickSize":-6,"labels":false,"title":null}},
    "y":{"datum":1443,"type":"quantitative","axis":{"orient":"right","values":[500,1000],"tickSize":-6,"labels":false,"title":null}}}},
  {"data":{"values":[{"band":"TH0"}]},"mark":{"type":"point","size":0,"opacity":0},
   "encoding":{"x":{"datum":0,"type":"quantitative","axis":{"orient":"bottom","values":[-8,-6,-4,-2,2,4,6,8,12,14,16,18,22,24,26,28,32,34,36,38,42,44,46,48,52,54,56],"tickSize":-3.5,"labels":false,"title":null}},
    "y":{"datum":500,"type":"quantitative","axis":{"orient":"left","values":[100,200,300,400,600,700,800,900,1100,1200,1300,1400],"tickSize":-3.5,"labels":false,"title":null}}}},
  {"data":{"values":[{"band":"TH0"}]},"mark":{"type":"point","size":0,"opacity":0},
   "encoding":{"x":{"datum":0,"type":"quantitative","axis":{"orient":"top","values":[-8,-6,-4,-2,2,4,6,8,12,14,16,18,22,24,26,28,32,34,36,38,42,44,46,48,52,54,56],"tickSize":-3.5,"labels":false,"title":null}},
    "y":{"datum":500,"type":"quantitative","axis":{"orient":"right","values":[100,200,300,400,600,700,800,900,1100,1200,1300,1400],"tickSize":-3.5,"labels":false,"title":null}}}}
 ],
 "resolve":{"axis":{"x":"independent","y":"independent"}}},
{"width":603.3,"height":89.5,
 "layer":[
  {"data":{"name":"wam"},"mark":{"type":"line","color":"#00ff00","strokeWidth":1.4,"clip":true},
   "encoding":{"x":{"field":"t","type":"quantitative","scale":{"domain":[-9.5,57.3],"nice":false,"zero":false},"axis":{"orient":"bottom","values":[0,10,20,30,40,50],"tickSize":-6,"labels":false,"title":null}},
    "y":{"field":"b","type":"quantitative","scale":{"domain":[-48,1411],"nice":false,"zero":false},"axis":{"orient":"left","values":[0,500,1000],"format":"d","tickSize":-6,"labelPadding":16,"title":null}}}},
  {"data":{"values":[{"band":"TH1"}]},"mark":{"type":"text","align":"right","baseline":"alphabetic","dx":-7.3,"dy":15,"font":"Liberation Sans","fontSize":15.5,"color":"#000"},
   "encoding":{"text":{"field":"band"},"x":{"datum":57.3,"type":"quantitative","axis":{"orient":"top","values":[0,10,20,30,40,50],"tickSize":-6,"labels":false,"title":null}},
    "y":{"datum":1411,"type":"quantitative","axis":{"orient":"right","values":[0,500,1000],"tickSize":-6,"labels":false,"title":null}}}},
  {"data":{"values":[{"band":"TH1"}]},"mark":{"type":"point","size":0,"opacity":0},
   "encoding":{"x":{"datum":0,"type":"quantitative","axis":{"orient":"bottom","values":[-8,-6,-4,-2,2,4,6,8,12,14,16,18,22,24,26,28,32,34,36,38,42,44,46,48,52,54,56],"tickSize":-3.5,"labels":false,"title":null}},
    "y":{"datum":500,"type":"quantitative","axis":{"orient":"left","values":[100,200,300,400,600,700,800,900,1100,1200,1300,1400],"tickSize":-3.5,"labels":false,"title":null}}}},
  {"data":{"values":[{"band":"TH1"}]},"mark":{"type":"point","size":0,"opacity":0},
   "encoding":{"x":{"datum":0,"type":"quantitative","axis":{"orient":"top","values":[-8,-6,-4,-2,2,4,6,8,12,14,16,18,22,24,26,28,32,34,36,38,42,44,46,48,52,54,56],"tickSize":-3.5,"labels":false,"title":null}},
    "y":{"datum":500,"type":"quantitative","axis":{"orient":"right","values":[100,200,300,400,600,700,800,900,1100,1200,1300,1400],"tickSize":-3.5,"labels":false,"title":null}}}}
 ],
 "resolve":{"axis":{"x":"independent","y":"independent"}}},
{"width":603.3,"height":89.5,
 "layer":[
  {"data":{"name":"wam"},"mark":{"type":"line","color":"#0000ff","strokeWidth":1.4,"clip":true},
   "encoding":{"x":{"field":"t","type":"quantitative","scale":{"domain":[-9.5,57.3],"nice":false,"zero":false},"axis":{"orient":"bottom","values":[0,10,20,30,40,50],"tickSize":-6,"labels":false,"title":null}},
    "y":{"field":"c","type":"quantitative","scale":{"domain":[-49,2114],"nice":false,"zero":false},"axis":{"orient":"left","values":[0,500,1000,1500,2000],"format":"d","tickSize":-6,"labelPadding":16,"title":"Counts/sec","titleX":-60,"titleY":53.5,"titleBaseline":"alphabetic","titleAngle":-90}}}},
  {"data":{"values":[{"band":"TH2"}]},"mark":{"type":"text","align":"right","baseline":"alphabetic","dx":-7.3,"dy":15,"font":"Liberation Sans","fontSize":15.5,"color":"#000"},
   "encoding":{"text":{"field":"band"},"x":{"datum":57.3,"type":"quantitative","axis":{"orient":"top","values":[0,10,20,30,40,50],"tickSize":-6,"labels":false,"title":null}},
    "y":{"datum":2114,"type":"quantitative","axis":{"orient":"right","values":[0,500,1000,1500,2000],"tickSize":-6,"labels":false,"title":null}}}},
  {"data":{"values":[{"band":"TH2"}]},"mark":{"type":"point","size":0,"opacity":0},
   "encoding":{"x":{"datum":0,"type":"quantitative","axis":{"orient":"bottom","values":[-8,-6,-4,-2,2,4,6,8,12,14,16,18,22,24,26,28,32,34,36,38,42,44,46,48,52,54,56],"tickSize":-3.5,"labels":false,"title":null}},
    "y":{"datum":500,"type":"quantitative","axis":{"orient":"left","values":[100,200,300,400,600,700,800,900,1100,1200,1300,1400,1600,1700,1800,1900,2100],"tickSize":-3.5,"labels":false,"title":null}}}},
  {"data":{"values":[{"band":"TH2"}]},"mark":{"type":"point","size":0,"opacity":0},
   "encoding":{"x":{"datum":0,"type":"quantitative","axis":{"orient":"top","values":[-8,-6,-4,-2,2,4,6,8,12,14,16,18,22,24,26,28,32,34,36,38,42,44,46,48,52,54,56],"tickSize":-3.5,"labels":false,"title":null}},
    "y":{"datum":500,"type":"quantitative","axis":{"orient":"right","values":[100,200,300,400,600,700,800,900,1100,1200,1300,1400,1600,1700,1800,1900,2100],"tickSize":-3.5,"labels":false,"title":null}}}}
 ],
 "resolve":{"axis":{"x":"independent","y":"independent"}}},
{"width":603.3,"height":89.5,
 "layer":[
  {"data":{"name":"wam"},"mark":{"type":"line","color":"#00ffff","strokeWidth":1.4,"clip":true},
   "encoding":{"x":{"field":"t","type":"quantitative","scale":{"domain":[-9.5,57.3],"nice":false,"zero":false},"axis":{"orient":"bottom","values":[0,10,20,30,40,50],"tickSize":-6,"labels":false,"title":null}},
    "y":{"field":"d","type":"quantitative","scale":{"domain":[436,2828],"nice":false,"zero":false},"axis":{"orient":"left","values":[500,1000,1500,2000,2500],"format":"d","tickSize":-6,"labelPadding":16,"title":null}}}},
  {"data":{"values":[{"band":"TH3"}]},"mark":{"type":"text","align":"right","baseline":"alphabetic","dx":-7.3,"dy":15,"font":"Liberation Sans","fontSize":15.5,"color":"#000"},
   "encoding":{"text":{"field":"band"},"x":{"datum":57.3,"type":"quantitative","axis":{"orient":"top","values":[0,10,20,30,40,50],"tickSize":-6,"labels":false,"title":null}},
    "y":{"datum":2828,"type":"quantitative","axis":{"orient":"right","values":[500,1000,1500,2000,2500],"tickSize":-6,"labels":false,"title":null}}}},
  {"data":{"values":[{"band":"TH3"}]},"mark":{"type":"point","size":0,"opacity":0},
   "encoding":{"x":{"datum":0,"type":"quantitative","axis":{"orient":"bottom","values":[-8,-6,-4,-2,2,4,6,8,12,14,16,18,22,24,26,28,32,34,36,38,42,44,46,48,52,54,56],"tickSize":-3.5,"labels":false,"title":null}},
    "y":{"datum":1000,"type":"quantitative","axis":{"orient":"left","values":[600,700,800,900,1100,1200,1300,1400,1600,1700,1800,1900,2100,2200,2300,2400,2600,2700,2800],"tickSize":-3.5,"labels":false,"title":null}}}},
  {"data":{"values":[{"band":"TH3"}]},"mark":{"type":"point","size":0,"opacity":0},
   "encoding":{"x":{"datum":0,"type":"quantitative","axis":{"orient":"top","values":[-8,-6,-4,-2,2,4,6,8,12,14,16,18,22,24,26,28,32,34,36,38,42,44,46,48,52,54,56],"tickSize":-3.5,"labels":false,"title":null}},
    "y":{"datum":1000,"type":"quantitative","axis":{"orient":"right","values":[600,700,800,900,1100,1200,1300,1400,1600,1700,1800,1900,2100,2200,2300,2400,2600,2700,2800],"tickSize":-3.5,"labels":false,"title":null}}}}
 ],
 "resolve":{"axis":{"x":"independent","y":"independent"}}},
{"width":603.3,"height":89.5,
 "layer":[
  {"data":{"name":"wam"},"mark":{"type":"line","color":"#ff00ff","strokeWidth":1.4,"clip":true},
   "encoding":{"x":{"field":"t","type":"quantitative","scale":{"domain":[-9.5,57.3],"nice":false,"zero":false},"axis":{"orient":"bottom","values":[0,10,20,30,40,50],"format":"d","tickSize":-6,"labelPadding":10,"title":"Time [sec] 0 = 2009/05/19 09:19:19.464","titleX":291,"titleY":36.8,"titleBaseline":"alphabetic","titleAlign":"center"}},
    "y":{"field":"e","type":"quantitative","scale":{"domain":[1770,6067],"nice":false,"zero":false},"axis":{"orient":"left","values":[2000,3000,4000,5000],"format":"d","tickSize":-6,"labelPadding":16,"title":null}}}},
  {"data":{"values":[{"band":"TH0123"}]},"mark":{"type":"text","align":"right","baseline":"alphabetic","dx":-7.3,"dy":15,"font":"Liberation Sans","fontSize":15.5,"color":"#000"},
   "encoding":{"text":{"field":"band"},"x":{"datum":57.3,"type":"quantitative","axis":{"orient":"top","values":[0,10,20,30,40,50],"tickSize":-6,"labels":false,"title":null}},
    "y":{"datum":6067,"type":"quantitative","axis":{"orient":"right","values":[2000,3000,4000,5000],"tickSize":-6,"labels":false,"title":null}}}},
  {"data":{"values":[{"band":"TH0123"}]},"mark":{"type":"point","size":0,"opacity":0},
   "encoding":{"x":{"datum":0,"type":"quantitative","axis":{"orient":"bottom","values":[-8,-6,-4,-2,2,4,6,8,12,14,16,18,22,24,26,28,32,34,36,38,42,44,46,48,52,54,56],"tickSize":-3.5,"labels":false,"title":null}},
    "y":{"datum":3000,"type":"quantitative","axis":{"orient":"left","values":[1800,2200,2400,2600,2800,3200,3400,3600,3800,4200,4400,4600,4800,5200,5400,5600,5800,6000],"tickSize":-3.5,"labels":false,"title":null}}}},
  {"data":{"values":[{"band":"TH0123"}]},"mark":{"type":"point","size":0,"opacity":0},
   "encoding":{"x":{"datum":0,"type":"quantitative","axis":{"orient":"top","values":[-8,-6,-4,-2,2,4,6,8,12,14,16,18,22,24,26,28,32,34,36,38,42,44,46,48,52,54,56],"tickSize":-3.5,"labels":false,"title":null}},
    "y":{"datum":3000,"type":"quantitative","axis":{"orient":"right","values":[1800,2200,2400,2600,2800,3200,3400,3600,3800,4200,4400,4600,4800,5200,5400,5600,5800,6000],"tickSize":-3.5,"labels":false,"title":null}}}}
 ],
 "resolve":{"axis":{"x":"independent","y":"independent"}}}
]
}
